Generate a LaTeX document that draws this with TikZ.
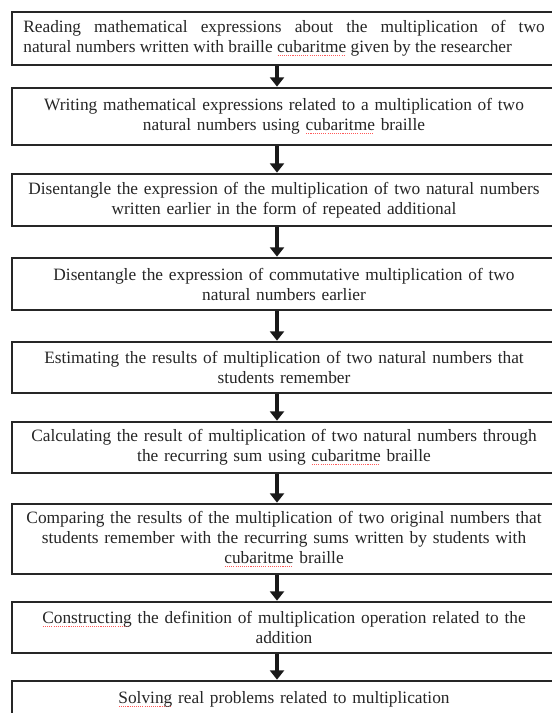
\documentclass[tikz,border=0pt]{standalone}
\usepackage{fontspec}
\setmainfont{Liberation Serif}
\usetikzlibrary{arrows.meta}
\newsavebox\spellbox
\newcommand\spell[1]{\leavevmode\sbox\spellbox{#1}\rlap{\raisebox{-2.6pt}{\color{red!65}\leaders\hbox to 1.6pt{\hss\rule{0.8pt}{0.6pt}\hss}\hskip\wd\spellbox}}#1}
\tikzset{
  flowbox/.style={draw=black!85, line width=2pt, fill=white, minimum width=408pt,
    inner sep=0pt, text width=391pt, align=center, font=\fontsize{13}{15}\selectfont,
    text=black!85},
  flowarrow/.style={draw=black!90, line width=3.4pt, -{Triangle[width=10.5pt,length=7pt]}},
}
\begin{document}
\begin{tikzpicture}[x=0.75pt,y=-0.75pt]
\useasboundingbox (0,0) rectangle (552,713);
\clip (0,0) rectangle (552,713);
\fill[white] (0,0) rectangle (552,713);
\coordinate (ax) at (277,0);
\node[flowbox, align=justify, minimum height=39.75pt] (b1) at (284,38.5)
  {Reading mathematical expressions about the multiplication of two\linebreak natural numbers written with braille \spell{cubaritme} given by the researcher};
\node[flowbox, minimum height=42.75pt] (b2) at (284,116.5)
  {Writing mathematical expressions related to a multiplication of two\\ natural numbers using \spell{cubaritme} braille};
\node[flowbox, minimum height=39pt] (b3) at (284,200)
  {Disentangle the expression of the multiplication of two natural numbers\\ written earlier in the form of repeated additional};
\node[flowbox, minimum height=39pt] (b4) at (284,284)
  {Disentangle the expression of commutative multiplication of two\\ natural numbers earlier};
\node[flowbox, minimum height=38.25pt] (b5) at (284,367.5)
  {Estimating the results of multiplication of two natural numbers that\\ students remember};
\node[flowbox, minimum height=38.25pt] (b6) at (284,447.5)
  {Calculating the result of multiplication of two natural numbers through\\ the recurring sum using \spell{cubaritme} braille};
\node[flowbox, minimum height=52.5pt] (b7) at (284,539)
  {Comparing the results of the multiplication of two original numbers that\\ students remember with the recurring sums written by students with\\ \spell{cubaritme} braille};
\node[flowbox, minimum height=38.25pt] (b8) at (284,627.5)
  {\spell{Constructing} the definition of multiplication operation related to the\\ addition};
\node[flowbox, minimum height=27pt] (b9) at (284,699)
  {\spell{Solving} real problems related to multiplication};
\foreach \a/\b in {b1/b2,b2/b3,b3/b4,b4/b5,b5/b6,b6/b7,b7/b8,b8/b9}
  \draw[flowarrow] (\a.south -| ax) -- (\b.north -| ax);
\end{tikzpicture}
\end{document}
